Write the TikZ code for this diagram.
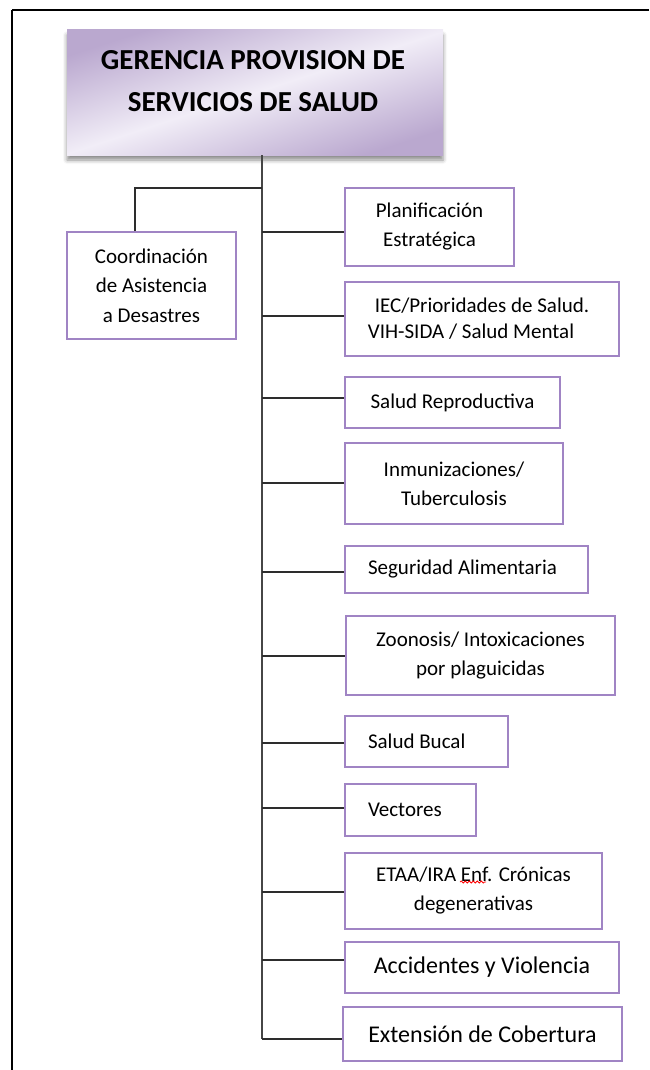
\documentclass[tikz,border=0pt]{standalone}
\usepackage{fontspec}
\setmainfont{Carlito}
\usetikzlibrary{shadows.blur,decorations.pathmorphing}

\definecolor{boxline}{RGB}{160,132,196}
\definecolor{linkgray}{RGB}{45,45,45}
\definecolor{trunkgray}{RGB}{70,70,70}
\definecolor{lavdark}{RGB}{186,168,207}
\definecolor{lavlight}{RGB}{241,237,247}

\tikzset{
  unit/.style={draw=boxline, line width=2pt, fill=white, inner sep=0pt,
    align=center, font=\fontsize{21}{29}\selectfont},
  unitleft/.style={unit, align=flush left, inner xsep=23pt},
  link/.style={draw=linkgray, line width=1.6pt},
  trunk/.style={draw=trunkgray, line width=2pt},
  headbox/.style={inner sep=0pt, minimum width=376pt, minimum height=125pt,
    top color=lavdark, bottom color=lavdark, middle color=lavlight,
    shading angle=18,
    blur shadow={shadow xshift=0pt, shadow yshift=-5pt,
      shadow blur radius=4pt, shadow opacity=45}},
  headtext/.style={align=center, inner sep=0pt,
    font=\fontsize{29}{42}\selectfont\bfseries},
  spellmark/.style={draw=red, line width=0.8pt, decorate,
    decoration={snake, amplitude=1pt, segment length=4pt}}
}

\begin{document}
\begin{tikzpicture}[x=1pt,y=-1pt]
  \useasboundingbox (0,0) rectangle (649,1070);

  % page frame
  \coordinate (frameTL) at (12,10);
  \coordinate (frameTR) at (649,10);
  \coordinate (frameBL) at (12,1070);
  \draw[line width=2.5pt] (frameTR) -- (frameTL);
  \draw[line width=2pt] (frameTL) -- (frameBL);

  % head unit
  \node[headbox] (head) at (255,92.5) {};
  \node[headtext] (headlabel) at ([xshift=-2pt,yshift=11pt]head.center)
    {GERENCIA PROVISION DE\\SERVICIOS DE SALUD};

  % left unit
  \node[unit, minimum width=169pt, minimum height=107pt,
    font=\fontsize{21}{29.5}\selectfont] (coord) at (151.5,285.5)
    {Coordinación\\de Asistencia\\a Desastres};

  % right units
  \node[unit, minimum width=169pt, minimum height=78pt] (plan) at (429.5,227)
    {Planificación\\Estratégica};
  \node[unit, minimum width=274pt, minimum height=74pt,
    font=\fontsize{21}{26}\selectfont] (iec) at (482,319)
    {IEC/Prioridades de Salud.\\VIH-SIDA / Salud Mental\hspace*{22pt}};
  \node[unit, minimum width=215pt, minimum height=51pt] (srep) at (452.5,402.5)
    {Salud Reproductiva};
  \node[unit, minimum width=218pt, minimum height=81pt] (inmu) at (454,483.5)
    {Inmunizaciones/\\Tuberculosis};
  \node[unitleft, text width=197pt, minimum height=47pt] (segu) at (466.5,569.5)
    {Seguridad Alimentaria};
  \node[unit, minimum width=269pt, minimum height=79pt] (zoon) at (480.5,655.5)
    {Zoonosis/ Intoxicaciones\\por plaguicidas};
  \node[unitleft, text width=117pt, minimum height=51pt] (buca) at (426.5,741.5)
    {Salud Bucal};
  \node[unitleft, text width=85pt, minimum height=52pt] (vect) at (410.5,810)
    {Vectores};
  \node[unit, minimum width=257pt, minimum height=76pt] (etaa) at (473.5,891)
    {ETAA/IRA Enf. Crónicas\\degenerativas};
  \node[unit, minimum width=274pt, minimum height=51pt,
    font=\fontsize{24}{29}\selectfont] (acci) at (482,967.5)
    {Accidentes y Violencia};
  \node[unit, minimum width=279pt, minimum height=54pt,
    font=\fontsize{24}{29}\selectfont] (exte) at (482.5,1034)
    {Extensión de Cobertura};

  % spell-check underline beneath "Enf"
  \coordinate (enfA) at ([xshift=116pt,yshift=9pt]etaa.west);
  \coordinate (enfB) at ([xshift=142pt,yshift=9pt]etaa.west);
  \draw[spellmark] (enfA) -- (enfB);

  % junctions on the trunk
  \coordinate (jtop)  at (262,155);
  \coordinate (jcoord) at (262,188);
  \coordinate (jplan) at (262,232);
  \coordinate (jiec)  at (262,316);
  \coordinate (jsrep) at (262,398);
  \coordinate (jinmu) at (262,483);
  \coordinate (jsegu) at (262,572);
  \coordinate (jzoon) at (262,656);
  \coordinate (jbuca) at (262,743);
  \coordinate (jvect) at (262,808);
  \coordinate (jetaa) at (262,892);
  \coordinate (jacci) at (262,960);
  \coordinate (jexte) at (262,1039);
  \coordinate (bend)  at (135,188);

  % trunk
  \draw[trunk] (jtop) -- (jexte);

  % branch to the left unit
  \draw[link] (jcoord) -- (bend) -- (bend |- coord.north);

  % branches to the right units
  \foreach \u in {plan,iec,srep,inmu,segu,zoon,buca,vect,etaa,acci,exte}
    \draw[link] (j\u) -- (j\u -| \u.west);
\end{tikzpicture}
\end{document}
